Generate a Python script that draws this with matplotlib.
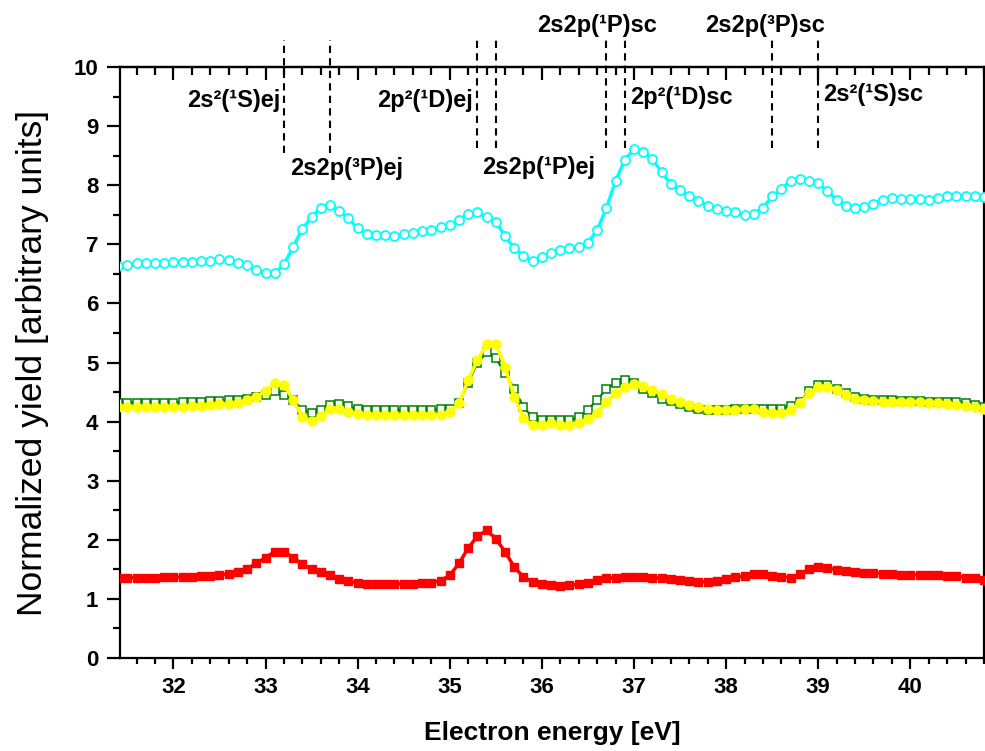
import numpy as np
import matplotlib
matplotlib.use("Agg")
import matplotlib.pyplot as plt
from matplotlib.ticker import MultipleLocator

plt.rcParams['font.family'] = ['Liberation Sans', 'DejaVu Sans']

# electron energy grid [eV], one point every 0.1 eV
energy = np.linspace(31.4, 40.8, 95)

yield_red = [
    1.36, 1.36, 1.36, 1.36, 1.36, 1.37, 1.37, 1.37, 1.37, 1.38,
    1.39, 1.40, 1.43, 1.46, 1.51, 1.60, 1.70, 1.80, 1.80, 1.70,
    1.59, 1.50, 1.46, 1.40, 1.34, 1.30, 1.27, 1.26, 1.25, 1.25,
    1.25, 1.26, 1.26, 1.27, 1.27, 1.31, 1.40, 1.60, 1.86, 2.06,
    2.16, 2.02, 1.80, 1.54, 1.37, 1.29, 1.25, 1.24, 1.22, 1.23,
    1.25, 1.27, 1.32, 1.35, 1.36, 1.37, 1.37, 1.37, 1.36, 1.35,
    1.33, 1.32, 1.30, 1.29, 1.29, 1.30, 1.34, 1.37, 1.39, 1.42,
    1.42, 1.39, 1.37, 1.36, 1.42, 1.50, 1.54, 1.53, 1.49, 1.47,
    1.45, 1.44, 1.44, 1.43, 1.42, 1.41, 1.41, 1.41, 1.41, 1.40,
    1.39, 1.39, 1.36, 1.35, 1.32]

yield_cyan = [
    6.64, 6.65, 6.68, 6.69, 6.69, 6.69, 6.70, 6.70, 6.70, 6.71,
    6.72, 6.75, 6.73, 6.69, 6.65, 6.56, 6.51, 6.51, 6.66, 6.96,
    7.26, 7.46, 7.62, 7.66, 7.57, 7.44, 7.27, 7.18, 7.15, 7.15,
    7.14, 7.17, 7.19, 7.23, 7.24, 7.29, 7.33, 7.41, 7.52, 7.54,
    7.46, 7.38, 7.14, 6.93, 6.81, 6.72, 6.79, 6.85, 6.90, 6.93,
    6.95, 7.03, 7.24, 7.61, 8.07, 8.43, 8.61, 8.57, 8.44, 8.22,
    8.02, 7.92, 7.82, 7.74, 7.65, 7.60, 7.57, 7.54, 7.50, 7.51,
    7.62, 7.81, 7.94, 8.07, 8.11, 8.07, 8.03, 7.90, 7.75, 7.65,
    7.62, 7.63, 7.69, 7.75, 7.78, 7.77, 7.77, 7.77, 7.75, 7.79,
    7.82, 7.82, 7.82, 7.81, 7.80]

yield_green = [
    4.32, 4.32, 4.32, 4.32, 4.32, 4.32, 4.32, 4.33, 4.33, 4.34,
    4.35, 4.35, 4.36, 4.37, 4.38, 4.41, 4.45, 4.52, 4.45, 4.37,
    4.20, 4.15, 4.20, 4.28, 4.30, 4.26, 4.21, 4.20, 4.20, 4.20,
    4.20, 4.20, 4.20, 4.20, 4.20, 4.21, 4.21, 4.31, 4.65, 4.99,
    5.17, 5.07, 4.82, 4.56, 4.25, 4.07, 4.03, 4.02, 4.02, 4.03,
    4.07, 4.20, 4.37, 4.55, 4.66, 4.70, 4.66, 4.56, 4.48, 4.39,
    4.35, 4.30, 4.25, 4.22, 4.20, 4.20, 4.20, 4.21, 4.22, 4.22,
    4.21, 4.21, 4.22, 4.26, 4.34, 4.51, 4.62, 4.62, 4.56, 4.49,
    4.42, 4.39, 4.37, 4.37, 4.37, 4.35, 4.35, 4.35, 4.34, 4.34,
    4.34, 4.34, 4.31, 4.28, 4.24]

yield_yellow = [
    4.25, 4.25, 4.25, 4.25, 4.25, 4.25, 4.25, 4.25, 4.26, 4.27,
    4.28, 4.29, 4.30, 4.31, 4.37, 4.42, 4.51, 4.65, 4.62, 4.37,
    4.07, 4.01, 4.09, 4.21, 4.21, 4.17, 4.13, 4.11, 4.11, 4.11,
    4.11, 4.11, 4.11, 4.11, 4.11, 4.12, 4.17, 4.31, 4.70, 5.04,
    5.31, 5.31, 4.93, 4.42, 4.06, 3.94, 3.94, 3.97, 3.95, 3.95,
    3.98, 4.04, 4.15, 4.34, 4.48, 4.59, 4.63, 4.60, 4.53, 4.47,
    4.39, 4.34, 4.28, 4.24, 4.21, 4.20, 4.20, 4.20, 4.21, 4.21,
    4.17, 4.15, 4.14, 4.20, 4.31, 4.48, 4.59, 4.59, 4.53, 4.45,
    4.39, 4.37, 4.35, 4.34, 4.34, 4.34, 4.34, 4.33, 4.31, 4.31,
    4.30, 4.28, 4.26, 4.25, 4.21]

# resonance positions [eV] and their labels
line_pos = [33.2, 33.7, 35.3, 35.5, 36.7, 36.9, 38.5, 39.0]
labels = ['2s²(¹S)ej', '2s2p(³P)ej', '2p²(¹D)ej', '2s2p(¹P)ej',
          '2s2p(¹P)sc', '2p²(¹D)sc', '2s2p(³P)sc', '2s²(¹S)sc']
label_x = [33.16, 33.27, 35.25, 35.35, 35.95, 36.96, 37.77, 39.05]
label_y = [9.33, 8.17, 9.33, 8.19, 10.59, 9.38, 10.59, 9.42]
label_ha = ['right', 'left', 'right', 'left', 'left', 'left', 'left', 'left']

fig = plt.figure(figsize=(9.85, 7.51), dpi=100)
ax = fig.add_axes([0.1218, 0.1238, 0.8772, 0.787])

ax.plot(energy, yield_cyan, '-o', color='#00ffff', lw=2.4, ms=6.5,
        mfc='white', mec='#00ffff', mew=1.3, zorder=3)
ax.plot(energy, yield_green, '-s', color='#008000', lw=1.5, ms=6,
        mfc='white', mec='#008000', mew=1.1, zorder=3)
ax.plot(energy, yield_yellow, '-o', color='#ffff00', lw=2.5, ms=6.5,
        mfc='#ffff00', mec='#ffff00', zorder=4)
ax.plot(energy, yield_red, '-s', color='#ff0000', lw=2.5, ms=5.5,
        mfc='#ff0000', mec='#ff0000', zorder=3)

for i, x in enumerate(line_pos):
    y0, y1 = (8.55, 10.46) if i < 2 else (8.63, 10.53)
    ax.plot([x, x], [y0, y1], color='black', lw=1.5, ls=(0, (3.5, 2.5)),
            clip_on=False, zorder=5)

for t, x, y, ha in zip(labels, label_x, label_y, label_ha):
    ax.text(x, y, t, ha=ha, va='baseline', fontsize=17, fontweight='bold',
            clip_on=False, zorder=6)

ax.set_xlim(31.42, 40.8)
ax.set_ylim(0, 10)
ax.xaxis.set_major_locator(MultipleLocator(1))
ax.xaxis.set_minor_locator(MultipleLocator(0.2))
ax.yaxis.set_major_locator(MultipleLocator(1))
ax.yaxis.set_minor_locator(MultipleLocator(0.5))

for s in ax.spines.values():
    s.set_linewidth(1.6)

ax.tick_params(axis='both', which='major', direction='out', width=1.6,
               labelsize=16)
ax.tick_params(axis='x', which='major', length=8, pad=6)
ax.tick_params(axis='x', which='minor', direction='out', length=4.5, width=1.6)
ax.tick_params(axis='y', which='major', length=9.5, pad=6)
ax.tick_params(axis='y', which='minor', direction='out', length=5, width=1.6)
for lab in ax.get_xticklabels() + ax.get_yticklabels():
    lab.set_fontweight('bold')

top = ax.secondary_xaxis('top')
top.xaxis.set_major_locator(MultipleLocator(1))
top.xaxis.set_minor_locator(MultipleLocator(0.2))
top.tick_params(which='major', direction='in', length=9, width=1.6, labeltop=False)
top.tick_params(which='minor', direction='in', length=6, width=1.6)
top.spines['top'].set_linewidth(1.6)

ax.set_xlabel('Electron energy [eV]', fontsize=19, fontweight='bold')
ax.xaxis.set_label_coords(0.5, -0.107)
ax.set_ylabel('Normalized yield [arbitrary units]', fontsize=25.5, labelpad=18)

fig.savefig('out.png', dpi=100)
